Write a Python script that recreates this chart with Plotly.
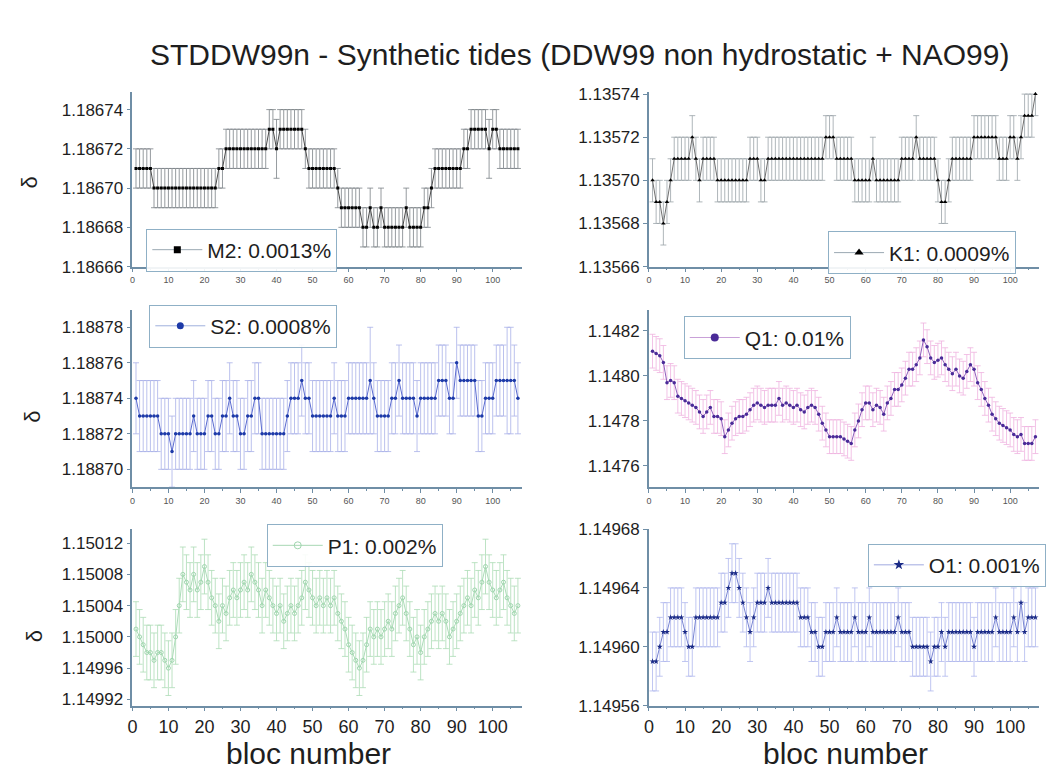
import plotly.graph_objects as go

# ---------------- data ----------------
TITLE = "STDDW99n - Synthetic tides (DDW99 non hydrostatic + NAO99)"
XLABEL = "bloc number"
YLABEL = "δ"
blocs = list(range(1, 108))
x_ticks = [0, 10, 20, 30, 40, 50, 60, 70, 80, 90, 100]

M2_label = "M2: 0.0013%"
M2 = [
    1.18671, 1.18671, 1.18671, 1.18671, 1.18671, 1.18670, 1.18670, 1.18670, 1.18670, 1.18670,
    1.18670, 1.18670, 1.18670, 1.18670, 1.18670, 1.18670, 1.18670, 1.18670, 1.18670, 1.18670,
    1.18670, 1.18670, 1.18670, 1.18671, 1.18671, 1.18672, 1.18672, 1.18672, 1.18672, 1.18672,
    1.18672, 1.18672, 1.18672, 1.18672, 1.18672, 1.18672, 1.18672, 1.18673, 1.18673, 1.18672,
    1.18673, 1.18673, 1.18673, 1.18673, 1.18673, 1.18673, 1.18673, 1.18672, 1.18671, 1.18671,
    1.18671, 1.18671, 1.18671, 1.18671, 1.18671, 1.18671, 1.18670, 1.18669, 1.18669, 1.18669,
    1.18669, 1.18669, 1.18669, 1.18668, 1.18668, 1.18669, 1.18668, 1.18668, 1.18669, 1.18668,
    1.18668, 1.18668, 1.18668, 1.18668, 1.18668, 1.18669, 1.18668, 1.18668, 1.18668, 1.18668,
    1.18669, 1.18669, 1.18670, 1.18671, 1.18671, 1.18671, 1.18671, 1.18671, 1.18671, 1.18671,
    1.18671, 1.18672, 1.18672, 1.18673, 1.18673, 1.18673, 1.18673, 1.18673, 1.18672, 1.18673,
    1.18673, 1.18672, 1.18672, 1.18672, 1.18672, 1.18672, 1.18672]
M2_err = [
    1e-5, 1e-5, 1e-5, 1e-5, 1e-5, 1e-5, 1e-5, 1e-5, 1e-5, 1e-5,
    1e-5, 1e-5, 1e-5, 1e-5, 1e-5, 1e-5, 1e-5, 1e-5, 1e-5, 1e-5,
    1e-5, 1e-5, 1e-5, 1e-5, 1e-5, 1e-5, 1e-5, 1e-5, 1e-5, 1e-5,
    1e-5, 1e-5, 1e-5, 1e-5, 1e-5, 1e-5, 1e-5, 1e-5, 1e-5, 1.5e-5,
    1e-5, 1e-5, 1e-5, 1e-5, 1e-5, 1e-5, 1e-5, 1e-5, 1e-5, 1e-5,
    1e-5, 1e-5, 1e-5, 1e-5, 1e-5, 1e-5, 1e-5, 1e-5, 1e-5, 1e-5,
    1e-5, 1e-5, 1e-5, 1e-5, 1e-5, 1e-5, 1e-5, 1e-5, 1e-5, 1e-5,
    1e-5, 1e-5, 1e-5, 1e-5, 1e-5, 1e-5, 1e-5, 1e-5, 1e-5, 1e-5,
    1e-5, 1e-5, 1e-5, 1e-5, 1e-5, 1e-5, 1e-5, 1e-5, 1e-5, 1e-5,
    1e-5, 1e-5, 1e-5, 1e-5, 1e-5, 1e-5, 1e-5, 1e-5, 1.5e-5, 1e-5,
    1e-5, 1e-5, 1e-5, 1e-5, 1e-5, 1e-5, 1e-5]
M2_yticks = [1.18666, 1.18668, 1.18670, 1.18672, 1.18674]

K1_label = "K1: 0.0009%"
K1 = [
    1.13570, 1.13569, 1.13569, 1.13568, 1.13569, 1.13570, 1.13571, 1.13571, 1.13571, 1.13571,
    1.13571, 1.13572, 1.13571, 1.13570, 1.13571, 1.13571, 1.13571, 1.13571, 1.13570, 1.13570,
    1.13570, 1.13570, 1.13570, 1.13570, 1.13570, 1.13570, 1.13570, 1.13571, 1.13571, 1.13571,
    1.13570, 1.13570, 1.13571, 1.13571, 1.13571, 1.13571, 1.13571, 1.13571, 1.13571, 1.13571,
    1.13571, 1.13571, 1.13571, 1.13571, 1.13571, 1.13571, 1.13571, 1.13571, 1.13572, 1.13572,
    1.13572, 1.13571, 1.13571, 1.13571, 1.13571, 1.13571, 1.13570, 1.13570, 1.13570, 1.13570,
    1.13570, 1.13571, 1.13570, 1.13570, 1.13570, 1.13570, 1.13570, 1.13570, 1.13570, 1.13571,
    1.13571, 1.13571, 1.13571, 1.13572, 1.13571, 1.13571, 1.13571, 1.13571, 1.13571, 1.13570,
    1.13569, 1.13569, 1.13570, 1.13571, 1.13571, 1.13571, 1.13571, 1.13571, 1.13571, 1.13572,
    1.13572, 1.13572, 1.13572, 1.13572, 1.13572, 1.13572, 1.13571, 1.13571, 1.13571, 1.13572,
    1.13572, 1.13571, 1.13572, 1.13573, 1.13573, 1.13573, 1.13574]
K1_err = 1e-5
K1_yticks = [1.13566, 1.13568, 1.13570, 1.13572, 1.13574]

S2_label = "S2: 0.0008%"
S2 = [
    1.18874, 1.18873, 1.18873, 1.18873, 1.18873, 1.18873, 1.18873, 1.18872, 1.18872, 1.18872,
    1.18871, 1.18872, 1.18872, 1.18872, 1.18872, 1.18872, 1.18873, 1.18872, 1.18872, 1.18872,
    1.18873, 1.18873, 1.18872, 1.18872, 1.18873, 1.18873, 1.18874, 1.18873, 1.18873, 1.18872,
    1.18872, 1.18873, 1.18873, 1.18874, 1.18874, 1.18872, 1.18872, 1.18872, 1.18872, 1.18872,
    1.18872, 1.18872, 1.18873, 1.18874, 1.18874, 1.18874, 1.18875, 1.18874, 1.18874, 1.18873,
    1.18873, 1.18873, 1.18873, 1.18873, 1.18873, 1.18874, 1.18873, 1.18873, 1.18873, 1.18874,
    1.18874, 1.18874, 1.18874, 1.18874, 1.18874, 1.18875, 1.18874, 1.18873, 1.18873, 1.18873,
    1.18873, 1.18874, 1.18874, 1.18875, 1.18874, 1.18874, 1.18874, 1.18874, 1.18873, 1.18874,
    1.18874, 1.18874, 1.18874, 1.18874, 1.18875, 1.18875, 1.18875, 1.18874, 1.18874, 1.18876,
    1.18875, 1.18875, 1.18875, 1.18875, 1.18875, 1.18873, 1.18873, 1.18874, 1.18874, 1.18874,
    1.18875, 1.18875, 1.18875, 1.18875, 1.18875, 1.18875, 1.18874]
S2_err = [
    2e-5, 2e-5, 2e-5, 2e-5, 2e-5, 2e-5, 2e-5, 2e-5, 2e-5, 2e-5,
    2e-5, 2e-5, 2e-5, 2e-5, 2e-5, 2e-5, 2e-5, 2e-5, 2e-5, 2e-5,
    2e-5, 2e-5, 2e-5, 2e-5, 2e-5, 2e-5, 2e-5, 2e-5, 2e-5, 2e-5,
    2e-5, 2e-5, 2e-5, 2e-5, 2e-5, 2e-5, 2e-5, 2e-5, 2e-5, 2e-5,
    2e-5, 2e-5, 2e-5, 2e-5, 2e-5, 2e-5, 2e-5, 2e-5, 2e-5, 2e-5,
    2e-5, 2e-5, 2e-5, 2e-5, 2e-5, 2e-5, 2e-5, 2e-5, 2e-5, 2e-5,
    2e-5, 2e-5, 2e-5, 2e-5, 2e-5, 3e-5, 2e-5, 2e-5, 2e-5, 2e-5,
    2e-5, 2e-5, 2e-5, 2e-5, 2e-5, 2e-5, 2e-5, 2e-5, 2e-5, 2e-5,
    2e-5, 2e-5, 2e-5, 2e-5, 2e-5, 2e-5, 2e-5, 2e-5, 2e-5, 2e-5,
    2e-5, 2e-5, 2e-5, 2e-5, 2e-5, 2e-5, 2e-5, 2e-5, 2e-5, 2e-5,
    2e-5, 2e-5, 2e-5, 3e-5, 3e-5, 2e-5, 2e-5]
S2_yticks = [1.18870, 1.18872, 1.18874, 1.18876, 1.18878]

Q1_label = "Q1: 0.01%"
Q1 = [
    1.14811, 1.14810, 1.14809, 1.14806, 1.14797, 1.14798, 1.14797, 1.14791, 1.14790, 1.14789,
    1.14788, 1.14787, 1.14786, 1.14784, 1.14782, 1.14784, 1.14786, 1.14782, 1.14782, 1.14781,
    1.14773, 1.14776, 1.14779, 1.14781, 1.14782, 1.14782, 1.14783, 1.14785, 1.14787, 1.14788,
    1.14787, 1.14786, 1.14787, 1.14787, 1.14787, 1.14790, 1.14787, 1.14788, 1.14787, 1.14786,
    1.14787, 1.14785, 1.14784, 1.14786, 1.14787, 1.14786, 1.14783, 1.14779, 1.14776, 1.14773,
    1.14773, 1.14773, 1.14773, 1.14772, 1.14771, 1.14770, 1.14776, 1.14780, 1.14785, 1.14788,
    1.14788, 1.14785, 1.14787, 1.14786, 1.14783, 1.14788, 1.14790, 1.14794, 1.14794, 1.14796,
    1.14799, 1.14803, 1.14803, 1.14805, 1.14808, 1.14816, 1.14813, 1.14808, 1.14806, 1.14807,
    1.14808, 1.14805, 1.14803, 1.14801, 1.14803, 1.14800, 1.14799, 1.14802, 1.14805, 1.14803,
    1.14797, 1.14794, 1.14790, 1.14787, 1.14783, 1.14781, 1.14779, 1.14778, 1.14777, 1.14776,
    1.14774, 1.14773, 1.14774, 1.14770, 1.14770, 1.14770, 1.14773]
Q1_err = 7.5e-5
Q1_yticks = [1.1476, 1.1478, 1.1480, 1.1482]

P1_label = "P1: 0.002%"
P1 = [
    1.15001, 1.15000, 1.14999, 1.14998, 1.14998, 1.14997, 1.14998, 1.14998, 1.14997, 1.14996,
    1.14997, 1.15000, 1.15004, 1.15008, 1.15007, 1.15006, 1.15008, 1.15006, 1.15007, 1.15009,
    1.15007, 1.15005, 1.15004, 1.15002, 1.15004, 1.15003, 1.15005, 1.15006, 1.15005, 1.15006,
    1.15007, 1.15006, 1.15008, 1.15007, 1.15006, 1.15004, 1.15006, 1.15005, 1.15004, 1.15003,
    1.15004, 1.15002, 1.15003, 1.15004, 1.15003, 1.15004, 1.15005, 1.15007, 1.15006, 1.15005,
    1.15004, 1.15005, 1.15004, 1.15005, 1.15004, 1.15005, 1.15003, 1.15002, 1.15001, 1.14999,
    1.14998, 1.14997, 1.14996, 1.14997, 1.14999, 1.15001, 1.15000, 1.15001, 1.15000, 1.15001,
    1.15002, 1.15001, 1.15003, 1.15004, 1.15005, 1.15003, 1.15001, 1.14999, 1.15000, 1.14998,
    1.15000, 1.15001, 1.15002, 1.15003, 1.15002, 1.15003, 1.15002, 1.15000, 1.15001, 1.15002,
    1.15003, 1.15004, 1.15005, 1.15004, 1.15006, 1.15005, 1.15007, 1.15009, 1.15007, 1.15006,
    1.15005, 1.15006, 1.15007, 1.15005, 1.15004, 1.15003, 1.15004]
P1_err = 3.5e-5
P1_yticks = [1.14992, 1.14996, 1.15000, 1.15004, 1.15008, 1.15012]

O1_label = "O1: 0.001%"
O1 = [
    1.14959, 1.14959, 1.14960, 1.14961, 1.14961, 1.14962, 1.14962, 1.14962, 1.14962, 1.14961,
    1.14960, 1.14960, 1.14962, 1.14962, 1.14962, 1.14962, 1.14962, 1.14962, 1.14962, 1.14963,
    1.14963, 1.14964, 1.14965, 1.14965, 1.14964, 1.14963, 1.14962, 1.14961, 1.14962, 1.14963,
    1.14963, 1.14963, 1.14964, 1.14963, 1.14963, 1.14963, 1.14963, 1.14963, 1.14963, 1.14963,
    1.14963, 1.14962, 1.14962, 1.14962, 1.14961, 1.14961, 1.14960, 1.14960, 1.14961, 1.14961,
    1.14961, 1.14962, 1.14961, 1.14961, 1.14961, 1.14961, 1.14962, 1.14961, 1.14961, 1.14961,
    1.14962, 1.14961, 1.14961, 1.14961, 1.14961, 1.14961, 1.14961, 1.14961, 1.14962, 1.14961,
    1.14961, 1.14961, 1.14960, 1.14960, 1.14960, 1.14960, 1.14960, 1.14959, 1.14960, 1.14960,
    1.14961, 1.14960, 1.14961, 1.14961, 1.14961, 1.14961, 1.14961, 1.14961, 1.14961, 1.14960,
    1.14961, 1.14961, 1.14961, 1.14961, 1.14961, 1.14962, 1.14961, 1.14961, 1.14961, 1.14961,
    1.14962, 1.14961, 1.14963, 1.14961, 1.14962, 1.14962, 1.14962]
O1_err = 2e-5
O1_yticks = [1.14956, 1.14960, 1.14964, 1.14968]

# ---------------- styling / layout ----------------
W, H = 1050, 782
FONT = "Liberation Sans, Arial, sans-serif"
AXIS_COLOR = "#6f8ea6"
TEXT_COLOR = "#1e1e1e"

def px_x(p):
    return p / W

def px_y(p):
    return 1 - p / H

XDOM_L = [px_x(128), px_x(519)]
XDOM_R = [px_x(647), px_x(1039)]
YDOM = [[px_y(264), px_y(85)], [px_y(490), px_y(308)], [px_y(714), px_y(533)]]

panels = [
    dict(label=M2_label, y=M2, err=M2_err, yticks=M2_yticks, yr=[1.18666, 1.186749], fmt=".5f",
         row=0, col=0, sym="square", msize=3, lsize=7, mcolor="#000000", lcolor="#4a4a4a",
         lgcolor="#9aa8b2", ecolor="#7b8287", leg=(142, 225)),
    dict(label=K1_label, y=K1, err=K1_err, yticks=K1_yticks, yr=[1.13566, 1.135741], fmt=".5f",
         row=0, col=1, sym="triangle-up", msize=4, lsize=8, mcolor="#000000", lcolor="#707070",
         lgcolor="#9aa8b2", ecolor="#9aa3a8", leg=(827, 228)),
    dict(label=S2_label, y=S2, err=S2_err, yticks=S2_yticks, yr=[1.18869, 1.18879], fmt=".5f",
         row=1, col=0, sym="circle", msize=3.5, lsize=7, mcolor="#1d3aa8", lcolor="#5a6bd0",
         lgcolor="#9fb0dd", ecolor="#aab1e8", leg=(145, 303)),
    dict(label=Q1_label, y=Q1, err=Q1_err, yticks=Q1_yticks, yr=[1.147506, 1.148295], fmt=".4f",
         row=1, col=1, sym="circle", msize=3.5, lsize=8, mcolor="#4a2b98", lcolor="#9060bc",
         lgcolor="#c9a0d8", ecolor="#efb3e0", leg=(682, 315)),
    dict(label=P1_label, y=P1, err=P1_err, yticks=P1_yticks, yr=[1.149912, 1.150138], fmt=".5f",
         row=2, col=0, sym="circle-open", msize=4, lsize=7, mcolor="#9fd6ae", lcolor="#acdcb8",
         lgcolor="#a7d7b3", ecolor="#acdcb5", leg=(263, 528)),
    dict(label=O1_label, y=O1, err=O1_err, yticks=O1_yticks, yr=[1.14956, 1.14968], fmt=".5f",
         row=2, col=1, sym="star", msize=4.5, lsize=8, mcolor="#1a2a86", lcolor="#7884d2",
         lgcolor="#a0a9e0", ecolor="#b0b7ee", leg=(867, 548)),
]

fig = go.Figure()
layout = dict(
    width=W, height=H, margin=dict(l=0, r=0, t=0, b=0),
    paper_bgcolor="white", plot_bgcolor="white",
    font=dict(family=FONT, color=TEXT_COLOR),
    showlegend=True,
)
annotations = []

for i, p in enumerate(panels):
    n = i + 1
    xa = "x" if n == 1 else f"x{n}"
    ya = "y" if n == 1 else f"y{n}"
    lg = "legend" if n == 1 else f"legend{n}"
    if isinstance(p["err"], list):
        ey = dict(type="data", array=p["err"], visible=True)
    else:
        ey = dict(type="constant", value=p["err"], visible=True)
    ey.update(color=p["ecolor"], thickness=0.8, width=3)
    open_sym = p["sym"] == "circle-open"
    fig.add_trace(go.Scatter(
        x=blocs, y=p["y"], mode="lines+markers", name=p["label"],
        xaxis=xa, yaxis=ya, showlegend=False,
        line=dict(color=p["lcolor"], width=1),
        marker=dict(symbol=p["sym"], size=p["msize"], color=p["mcolor"],
                    line=dict(width=1 if open_sym else 0, color=p["mcolor"])),
        error_y=ey,
    ))
    # legend entry (larger symbol, as drawn in the reference legend box)
    fig.add_trace(go.Scatter(
        x=[None], y=[None], mode="lines+markers", name=p["label"],
        xaxis=xa, yaxis=ya, legend=lg, showlegend=True,
        line=dict(color=p["lgcolor"], width=1),
        marker=dict(symbol=p["sym"], size=p["lsize"], color=p["mcolor"],
                    line=dict(width=1 if open_sym else 0, color=p["mcolor"])),
    ))
    bottom = p["row"] == 2
    xkey = "xaxis" if n == 1 else f"xaxis{n}"
    ykey = "yaxis" if n == 1 else f"yaxis{n}"
    layout[xkey] = dict(
        domain=XDOM_L if p["col"] == 0 else XDOM_R,
        anchor=ya, range=[0, 108], tickvals=x_ticks,
        showline=True, linecolor=AXIS_COLOR, linewidth=1.5,
        ticks="outside", ticklen=4, tickcolor=AXIS_COLOR, tickwidth=1,
        minor=dict(ticks="outside", ticklen=2, dtick=5, tickcolor=AXIS_COLOR),
        showgrid=False, zeroline=False,
        tickfont=dict(size=18 if bottom else 9, color=TEXT_COLOR if bottom else "#555555"),
    )
    layout[ykey] = dict(
        domain=YDOM[p["row"]], anchor=xa, range=p["yr"], tickvals=p["yticks"],
        tickformat=p["fmt"],
        showline=True, linecolor=AXIS_COLOR, linewidth=1.5,
        ticks="outside", ticklen=4, tickcolor=AXIS_COLOR, tickwidth=1,
        showgrid=False, zeroline=False,
        tickfont=dict(size=17, color=TEXT_COLOR),
    )
    layout[lg] = dict(
        x=px_x(p["leg"][0]), y=px_y(p["leg"][1]), xanchor="left", yanchor="top",
        bgcolor="rgba(255,255,255,0.9)", bordercolor="#8fb0c6", borderwidth=1,
        font=dict(size=21, family=FONT, color=TEXT_COLOR),
        itemwidth=50,
    )

# delta labels (left column only)
for (xp, yp) in [(25, 178), (28, 418), (30, 643)]:
    annotations.append(dict(x=px_x(xp), y=px_y(yp), xref="paper", yref="paper",
                            text=YLABEL, showarrow=False, textangle=-90,
                            font=dict(size=22, color=TEXT_COLOR),
                            xanchor="center", yanchor="middle"))
# x-axis titles
for xp in (305, 845):
    annotations.append(dict(x=px_x(xp), y=px_y(763), xref="paper", yref="paper",
                            text=XLABEL, showarrow=False,
                            font=dict(size=30, color=TEXT_COLOR),
                            xanchor="center", yanchor="middle"))
# main title
annotations.append(dict(x=px_x(577), y=px_y(47), xref="paper", yref="paper",
                        text=TITLE, showarrow=False,
                        font=dict(size=30, color=TEXT_COLOR),
                        xanchor="center", yanchor="middle"))
layout["annotations"] = annotations
fig.update_layout(**layout)

fig.write_html("out.html", config={"displayModeBar": False},
               post_script="document.body.style.margin='0px';document.body.style.overflow='hidden';")
